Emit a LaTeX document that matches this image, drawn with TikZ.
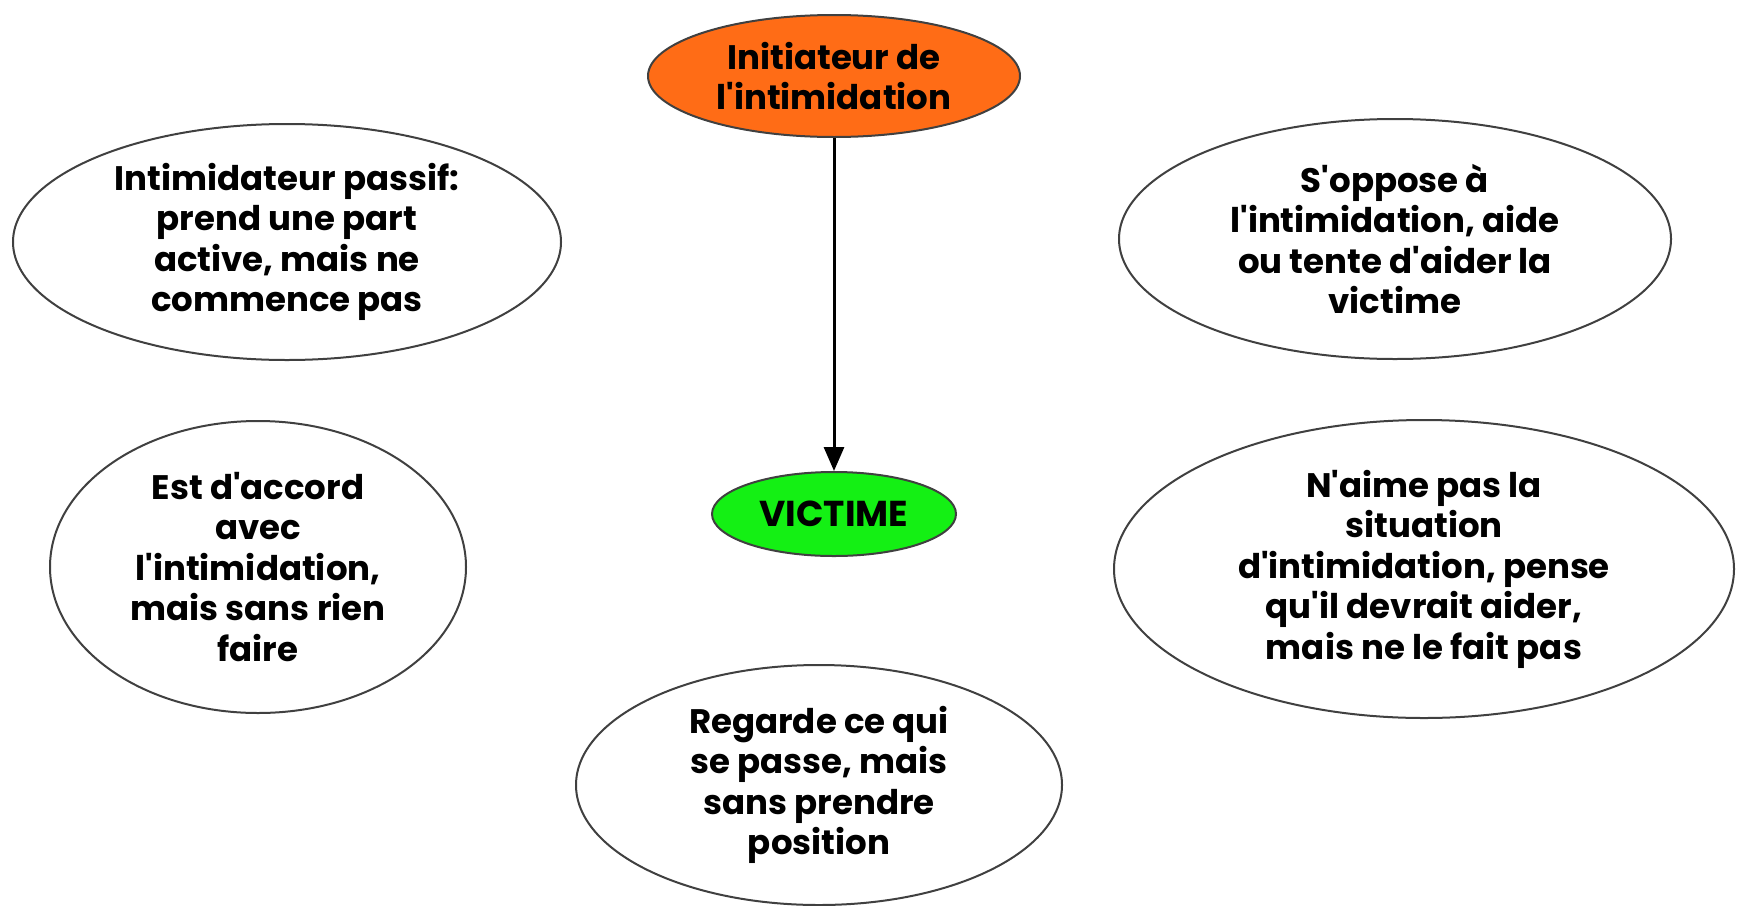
\documentclass[tikz,border=0pt]{standalone}
\usepackage{fontspec}
\setmainfont{Poppins}[Ligatures=TeXOff]
\usetikzlibrary{shapes.geometric,arrows.meta}
\definecolor{orangefill}{RGB}{255,108,22}
\definecolor{greenfill}{RGB}{20,240,20}
\tikzset{
  bub/.style={draw=black!75, line width=2pt, ellipse, inner sep=0pt, align=center,
    font=\fontsize{34}{40.5}\selectfont\bfseries},
}
\begin{document}
\begin{tikzpicture}[x=1pt,y=-1pt]
\useasboundingbox (0,0) rectangle (1744,905);
\node[bub, fill=orangefill, minimum width=372, minimum height=122] (init) at (834,76) {Initiateur de\\l'intimidation};
\node[bub, fill=greenfill, minimum width=244, minimum height=84, font=\fontsize{36}{40}\selectfont\bfseries] (vict) at (834,514) {VICTIME};
\node[bub, minimum width=548, minimum height=236] (passif) at (287,242) {Intimidateur passif:\\prend une part\\active, mais ne\\commence pas};
\node[bub, minimum width=552, minimum height=240] (oppose) at (1395,239) {S'oppose à\\l'intimidation, aide\\ou tente d'aider la\\victime};
\node[bub, minimum width=416, minimum height=292] (accord) at (258,567) {Est d'accord\\avec\\l'intimidation,\\mais sans rien\\faire};
\node[bub, minimum width=620, minimum height=298] (aime) at (1424,569) {N'aime pas la\\situation\\d'intimidation, pense\\qu'il devrait aider,\\mais ne le fait pas};
\node[bub, minimum width=486, minimum height=240] (regarde) at (819,785) {Regarde ce qui\\se passe, mais\\sans prendre\\position};
\draw[line width=3pt, -{Triangle[length=24pt,width=20pt]}] (init) -- (vict);
\end{tikzpicture}
\end{document}
